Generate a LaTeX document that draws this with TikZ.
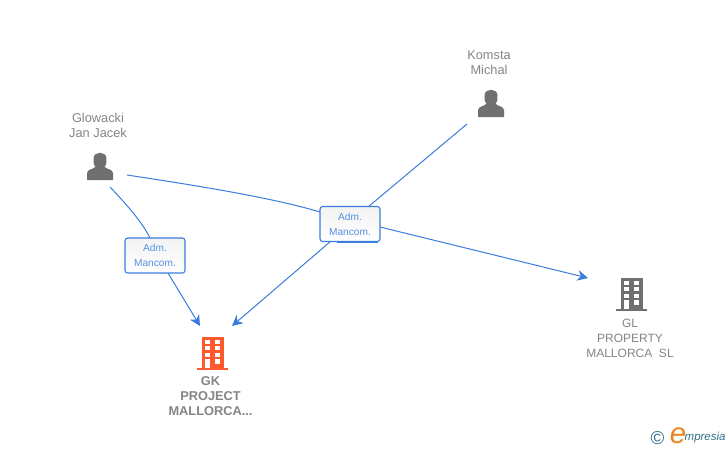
\documentclass[tikz,border=0pt]{standalone}
\usepackage{fontspec}
\setmainfont{Liberation Sans}
\usepackage{xcolor}
\usepackage{tikz}
\usetikzlibrary{arrows.meta}
\usetikzlibrary{positioning}

\definecolor{linkblue}{RGB}{58,124,222}
\definecolor{textgrey}{RGB}{132,132,132}
\definecolor{icongrey}{RGB}{112,112,112}
\definecolor{iconorange}{RGB}{255,90,45}
\definecolor{logoteal}{RGB}{45,110,135}
\definecolor{logoorange}{RGB}{240,130,30}

\tikzset{
  link/.style={color=linkblue,line width=0.75},
  linkarrow/.style={link,-{Stealth[length=8,width=8,inset=2.5]}},
  rolebox/.style={draw=linkblue,line width=0.8,rounded corners=2,top color=black!5,bottom color=white,
    minimum width=45,minimum height=26.25,inner sep=0pt,align=center,text=linkblue!85!white,
    font=\fontsize{7.6}{11.2}\selectfont},
  personname/.style={inner sep=0.75pt,align=center,text=textgrey,font=\fontsize{9.6}{11.25}\selectfont},
  companyname/.style={personname,font=\fontsize{9}{11.25}\selectfont},
  % y runs upwards inside a pic
  person/.pic={
    \fill[icongrey] (-13,0) -- (-13,7) .. controls (-13,11) and (-5,11) .. (-4.5,13.5)
      .. controls (-6.5,15) and (-7,19) .. (-6.5,22) .. controls (-5.5,29) and (5.5,29) .. (6.5,22)
      .. controls (7,19) and (6.5,15) .. (4.5,13.5) .. controls (5,11) and (13,11) .. (13,7) -- (13,0) -- cycle;
  },
  building/.pic={
    \fill[pic actions] (-15.5,2) rectangle (15.5,0);
    \fill[pic actions] (-11,33) rectangle (11,1);
    \foreach \row in {30,24,17} {
      \fill[white] (-7.5,\row) rectangle (-3,\row-4);
      \fill[white] (2,\row) rectangle (7,\row-4);
    }
    \fill[white] (-7.5,11) rectangle (-3,1.5);
    \fill[white] (2,10.5) rectangle (7,6);
  }
}

\begin{document}
\begin{tikzpicture}[x=0.75pt,y=0.75pt,yscale=-1,xscale=1]
  \useasboundingbox (0,0) rectangle (728,450);

  % Icons
  \pic at (100,180) {person};
  \pic at (491,117) {person};
  \pic [fill=iconorange] at (212.5,369.5) {building};
  \pic [fill=icongrey] at (631.5,310.5) {building};

  % Text Node
  \node (glowacki) [personname] at (98,125.5) {Glowacki\\Jan Jacek};
  \node (komsta) [personname] at (489,62.5) {Komsta\\Michal};
  \node (gk) [companyname,font=\fontsize{9.6}{11.25}\selectfont\bfseries] at (210.5,396) {GK\\PROJECT\\MALLORCA...};
  \node (gl) [companyname] at (630,338) {GL\\PROPERTY\\MALLORCA~~SL};

  % Role boxes
  \coordinate (glowackiout) at (110,187);
  \coordinate (glowackiside) at (127,175);
  \coordinate (komstaout) at (467,124);
  \coordinate (gktipa) at (200,326);
  \coordinate (gktipb) at (232,326);
  \coordinate (gltip) at (588,278);
  \draw [link,line width=1.6] (337,242) -- (378,242);

  % Straight Lines
  \draw [link] (glowackiout) .. controls (128,206) and (142,222) .. (150,238);
  \draw [linkarrow] (168,273) -- (gktipa);
  \draw [link] (glowackiside) .. controls (220,189) and (280,200) .. (320,212);
  \draw [linkarrow] (380,227) -- (gltip);
  \draw [link] (komstaout) -- (368,207);
  \draw [linkarrow] (331,241) -- (gktipb);

  \node (rolea) [rolebox] at (155,255.5) {Adm.\\Mancom.};
  \node (roleb) [rolebox] at (350,224) {Adm.\\Mancom.};

  % Logo
  \node (copyr) [inner sep=0pt,text=logoteal,font=\fontsize{14}{14}\selectfont] at (657.5,438.5) {©};
  \node (logoe) [inner sep=0pt,text=logoorange,font=\fontsize{22}{22}\selectfont\itshape] at (678,436) {e};
  \node (logotext) [right=-1.5pt of logoe,yshift=-1.5pt,inner sep=0pt,text=logoteal,font=\fontsize{8.6}{8.6}\selectfont\itshape] {mpresia};
\end{tikzpicture}
\end{document}
